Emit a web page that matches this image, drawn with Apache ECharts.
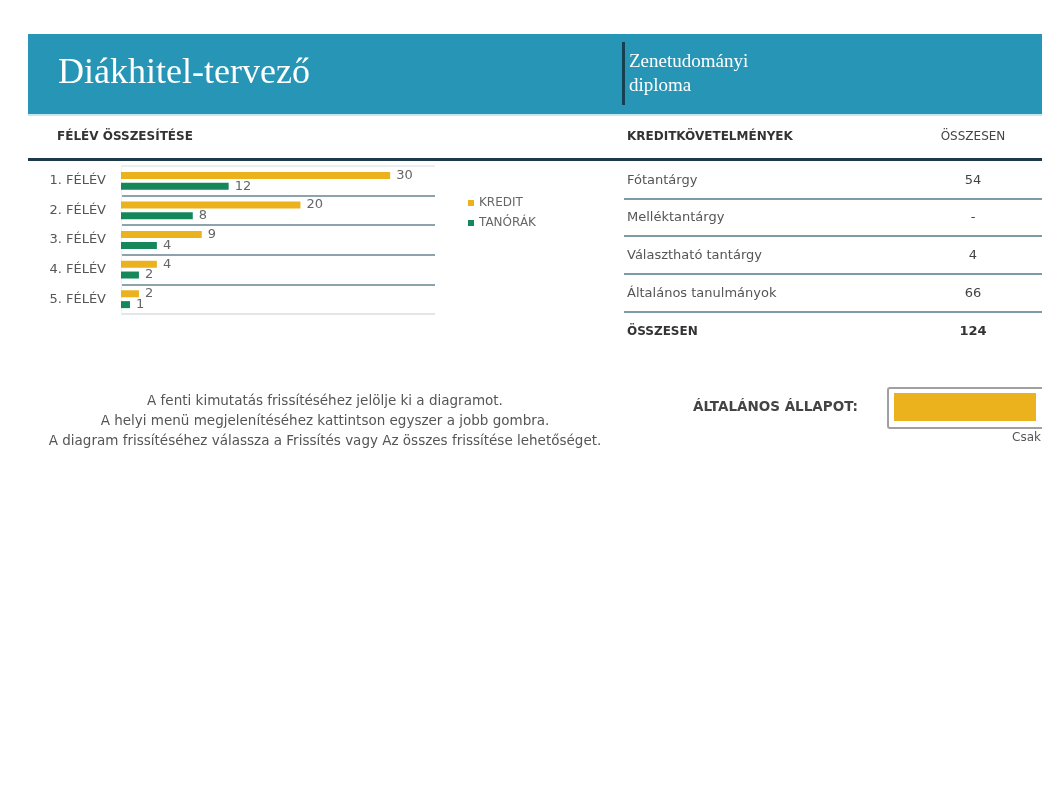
<!DOCTYPE html>
<html><head><meta charset="utf-8">
<script src="https://cdn.jsdelivr.net/npm/echarts@6/dist/echarts.min.js"></script>
<style>html,body{margin:0;padding:0;background:#fff}#c{width:1042px;height:800px}</style>
</head><body><div id="c"></div>
<script>
const categories = ['1. FÉLÉV', '2. FÉLÉV', '3. FÉLÉV', '4. FÉLÉV', '5. FÉLÉV'];
const kredit = [30, 20, 9, 4, 2];
const tanorak = [12, 8, 4, 2, 1];
const seriesNames = ['KREDIT', 'TANÓRÁK'];
const reqLabels = ['Fótantárgy', 'Melléktantárgy', 'Választható tantárgy', 'Általános tanulmányok'];
const reqValues = ['54', '-', '4', '66'];
const totalLabel = 'ÖSSZESEN';
const totalValue = '124';
const notes = ['A fenti kimutatás frissítéséhez jelölje ki a diagramot.',
  'A helyi menü megjelenítéséhez kattintson egyszer a jobb gombra.',
  'A diagram frissítéséhez válassza a Frissítés vagy Az összes frissítése lehetőséget.'];

const YELLOW = '#ebb21e', GREEN = '#16875a', GRAY = '#555', FONT = '"DejaVu Sans", sans-serif';
const chart = echarts.init(document.getElementById('c'));

const g = [];
// banner
g.push({type:'rect', shape:{x:28,y:34,width:1014,height:80}, style:{fill:'#2796b6'}});
g.push({type:'rect', shape:{x:28,y:114,width:1014,height:2}, style:{fill:'#c9e6ef'}});
g.push({type:'text', style:{x:58,y:74,text:'Diákhitel-tervező',fill:'#fff',font:'36px "Liberation Serif", "DejaVu Serif", serif',verticalAlign:'middle'}});
g.push({type:'rect', shape:{x:622,y:42,width:3,height:63}, style:{fill:'#173f52'}});
g.push({type:'text', style:{x:629,y:62,text:'Zenetudományi',fill:'#fff',font:'19px "Liberation Serif", serif',verticalAlign:'middle'}});
g.push({type:'text', style:{x:629,y:86,text:'diploma',fill:'#fff',font:'19px "Liberation Serif", serif',verticalAlign:'middle'}});
// section headers
g.push({type:'text', style:{x:57,y:137,text:'FÉLÉV ÖSSZESÍTÉSE',fill:'#333',font:'bold 12px '+FONT,verticalAlign:'middle'}});
g.push({type:'text', style:{x:627,y:137,text:'KREDITKÖVETELMÉNYEK',fill:'#333',font:'bold 12px '+FONT,verticalAlign:'middle'}});
g.push({type:'text', style:{x:973,y:137,text:'ÖSSZESEN',fill:'#444',font:'12px '+FONT,verticalAlign:'middle',align:'center'}});
g.push({type:'rect', shape:{x:28,y:158,width:1014,height:3}, style:{fill:'#1c3a4c'}});
// table rows
const rowY = [181, 218, 256, 294];
reqLabels.forEach((l,i)=>{
  g.push({type:'text', style:{x:627,y:rowY[i],text:l,fill:GRAY,font:'13px '+FONT,verticalAlign:'middle'}});
  g.push({type:'text', style:{x:973,y:rowY[i],text:reqValues[i],fill:'#444',font:'13px '+FONT,verticalAlign:'middle',align:'center'}});
  g.push({type:'rect', shape:{x:624,y:rowY[i]+17,width:418,height:2}, style:{fill:'#7d9ba6'}});
});
g.push({type:'text', style:{x:627,y:332,text:totalLabel,fill:'#333',font:'bold 12px '+FONT,verticalAlign:'middle'}});
g.push({type:'text', style:{x:973,y:332,text:totalValue,fill:'#333',font:'bold 13px '+FONT,verticalAlign:'middle',align:'center'}});
// notes
notes.forEach((t,i)=>{
  g.push({type:'text', style:{x:325,y:401+i*20,text:t,fill:GRAY,font:'13.5px '+FONT,verticalAlign:'middle',align:'center'}});
});
// status
g.push({type:'text', style:{x:858,y:407,text:'ÁLTALÁNOS ÁLLAPOT:',fill:'#444',font:'bold 13.5px '+FONT,verticalAlign:'middle',align:'right'}});
g.push({type:'rect', shape:{x:888,y:388,width:170,height:40,r:2}, style:{fill:'#fff',stroke:'#a0a0a0',lineWidth:2}});
g.push({type:'rect', shape:{x:894,y:393,width:142,height:28}, style:{fill:YELLOW}});
g.push({type:'text', style:{x:1012,y:438,text:'Csak',fill:'#555',font:'12px '+FONT,verticalAlign:'middle'}});

chart.setOption({
  animation:false,
  textStyle:{fontFamily:FONT},
  legend:{left:463, top:192, orient:'vertical', itemWidth:6, itemHeight:6, itemGap:8, icon:'rect',
    textStyle:{color:'#666', fontSize:12}, data:seriesNames},
  grid:{left:121, top:166, width:314, height:148},
  xAxis:{type:'value', min:0, max:35, show:false},
  yAxis:{type:'category', data:categories, inverse:true,
    axisLine:{show:true, lineStyle:{color:'#eef1f2'}}, axisTick:{show:false},
    axisLabel:{color:GRAY, fontSize:13, margin:15},
    splitLine:{show:true, lineStyle:{color:['#eceff0','#8ca3ad','#8ca3ad','#8ca3ad','#8ca3ad','#e3e6e8'], width:2}}},
  series:[
    {name:seriesNames[0], type:'bar', data:kredit, barWidth:7, barGap:'55%', itemStyle:{color:YELLOW},
      label:{show:true, position:'right', color:'#666', fontSize:13, distance:6}},
    {name:seriesNames[1], type:'bar', data:tanorak, barWidth:7, itemStyle:{color:GREEN},
      label:{show:true, position:'right', color:'#666', fontSize:13, distance:6}}
  ],
  graphic:g
});
</script></body></html>
